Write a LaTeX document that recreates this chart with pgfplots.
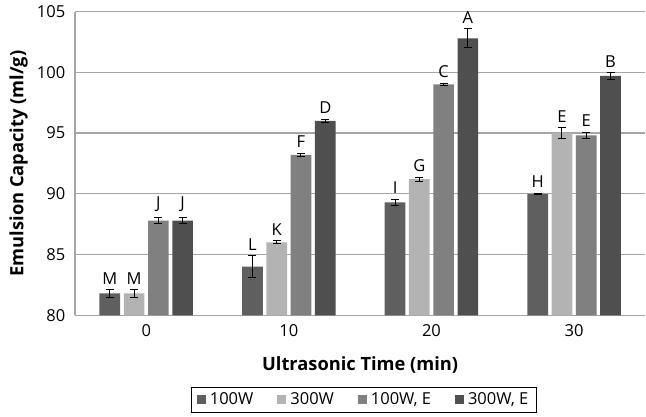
\documentclass[border=0pt]{standalone}
\usepackage{pgfplots}
\pgfplotsset{compat=1.18}
\usepackage{fontspec}
\setmainfont{Open Sans}
\definecolor{cA}{HTML}{5F5F5F}
\definecolor{cB}{HTML}{B3B3B3}
\definecolor{cC}{HTML}{808080}
\definecolor{cD}{HTML}{4F4F4F}
\definecolor{gridc}{HTML}{A6A6A6}
\pgfplotsset{mybar/.style={fill=#1, draw=none,
  visualization depends on={value \thisrow{e} \as \eval},
  error bars/.cd, y dir=both, y explicit,
  error bar style={black, line width=1pt},
  error mark options={black, line width=1pt, rotate=90, mark size=4pt}}}
\begin{document}
\fontsize{16.5}{20}\selectfont
\begin{tikzpicture}
\begin{axis}[
  scale only axis,
  width=571pt, height=304pt,
  ybar=3.6pt, bar width=20.7pt,
  xmin=-0.5, xmax=3.5, ymin=80, ymax=105,
  xtick={0,1,2,3}, xticklabels={0,10,20,30},
  ytick={80,85,...,105},
  /pgf/number format/assume math mode=true,
  tick label style={font=\fontsize{16.5}{20}\selectfont},
  axis x line*=bottom, axis y line*=left,
  axis line style={gridc, line width=1.2pt, -},
  major tick length=0pt,
  ymajorgrids, grid style={gridc, line width=1.2pt},
  xlabel={\textbf{Ultrasonic Time (min)}},
  ylabel={\textbf{Emulsion Capacity (ml/g)}},
  label style={font=\fontsize{18.3}{22}\selectfont},
  yticklabel style={xshift=-4pt},
  xticklabel style={yshift=-4pt},
  xlabel style={yshift=-8pt},
  ylabel style={yshift=-2pt},
  legend columns=4,
  legend style={at={(0.506,-0.237)}, anchor=north, draw=black, line width=0.8pt,
    font=\fontsize{16.5}{19}\selectfont,
    /tikz/every odd column/.append style={column sep=2pt},
    /tikz/every even column/.append style={column sep=22pt},
    inner xsep=6pt, inner ysep=3pt},
  legend image code/.code={\fill[#1] (0pt,-4.5pt) rectangle (9pt,4.5pt);},
  point meta=explicit symbolic,
  nodes near coords,
  every node near coord/.append style={font=\fontsize{16.5}{20}\selectfont, black, yshift={\eval*12.16pt}},
]
\addplot[mybar=cA] table[x=x, y=y, y error=e, meta=lab] {
x y e lab
0 81.8 0.3 M
1 84.0 0.9 L
2 89.3 0.25 I
3 90.0 0.04 H
};
\addplot[mybar=cB] table[x=x, y=y, y error=e, meta=lab] {
x y e lab
0 81.8 0.3 M
1 86.0 0.12 K
2 91.2 0.15 G
3 95.0 0.42 E
};
\addplot[mybar=cC] table[x=x, y=y, y error=e, meta=lab] {
x y e lab
0 87.8 0.25 J
1 93.2 0.15 F
2 99.0 0.1 C
3 94.8 0.27 E
};
\addplot[mybar=cD] table[x=x, y=y, y error=e, meta=lab] {
x y e lab
0 87.8 0.25 J
1 96.0 0.1 D
2 102.8 0.77 A
3 99.7 0.26 B
};
\legend{100W, 300W, {100W, E}, {300W, E}}
\end{axis}
\path[use as bounding box] (-75pt,-101pt) rectangle (571pt,11pt+304pt);
\end{tikzpicture}
\end{document}
